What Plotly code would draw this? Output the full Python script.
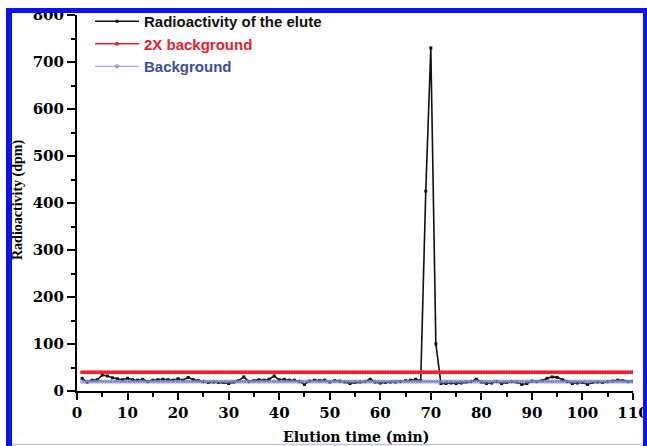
import plotly.graph_objects as go

# ---------------- data ----------------
elution_time = list(range(1, 111))
radioactivity = [
    27, 19, 23, 24, 34, 32, 28, 26, 24, 27,
    24, 23, 25, 20, 23, 24, 25, 24, 23, 26,
    23, 29, 24, 22, 20, 18, 19, 18, 18, 16,
    19, 22, 30, 20, 22, 24, 23, 25, 32, 24,
    25, 23, 23, 20, 14, 21, 23, 22, 23, 19,
    22, 21, 19, 16, 18, 19, 20, 25, 19, 17,
    18, 19, 19, 20, 22, 23, 25, 22, 425, 730,
    100, 16, 16, 17, 16, 17, 19, 20, 25, 19,
    16, 17, 20, 16, 18, 20, 19, 14, 16, 21,
    20, 22, 27, 30, 29, 24, 20, 16, 17, 18,
    14, 18, 19, 18, 20, 21, 23, 22, 20, 21,
]
bg_time = [1 + 0.5 * i for i in range(219)]
background_level = 20
two_x_background_level = 40
background = [background_level] * len(bg_time)
two_x_background = [two_x_background_level] * len(bg_time)

x_ticks = [0, 10, 20, 30, 40, 50, 60, 70, 80, 90, 100, 110]
y_ticks = [0, 100, 200, 300, 400, 500, 600, 700, 800]

# ---------------- layout geometry ----------------
W, H = 647, 446
L, R, T, B = 77, 633, 15, 391


def px(xp):
    return (xp - L) / (R - L)


def py(yp):
    return (B - yp) / (B - T)


serif = "DejaVu Serif"
sans = "Liberation Sans"

fig = go.Figure()
fig.add_trace(go.Scatter(
    x=elution_time, y=radioactivity, mode="lines+markers",
    name="<span style='color:#111111'>Radioactivity of the elute</span>",
    line=dict(color="#111111", width=1.6),
    marker=dict(symbol="square", size=3, color="#111111"),
))
fig.add_trace(go.Scatter(
    x=bg_time, y=two_x_background, mode="lines+markers",
    name="<span style='color:#e8202c'>2X background</span>",
    line=dict(color="#f02030", width=1.5),
    marker=dict(symbol="circle", size=4, color="#f02030"),
))
fig.add_trace(go.Scatter(
    x=bg_time, y=background, mode="lines+markers",
    name="<span style='color:#3d4ea0'>Background</span>",
    line=dict(color="#8890d8", width=1),
    marker=dict(symbol="circle-open", size=3, color="#7080cc", line=dict(width=1)),
))

axis_font = dict(family=serif, size=15, color="black", weight="bold")

fig.update_xaxes(
    range=[0, 110], tickvals=x_ticks, ticktext=[str(v) for v in x_ticks],
    showline=True, linecolor="black", linewidth=2,
    ticks="outside", ticklen=7, tickwidth=2, tickcolor="black",
    minor=dict(dtick=5, ticks="outside", ticklen=4, tickwidth=2, tickcolor="black"),
    showgrid=False, zeroline=False, tickfont=axis_font,
    automargin=False, ticklabeloverflow="allow",
)
fig.update_yaxes(
    range=[0, 800], tickvals=y_ticks, ticktext=[str(v) for v in y_ticks],
    showline=True, linecolor="black", linewidth=2,
    ticks="outside", ticklen=8, tickwidth=2, tickcolor="black",
    minor=dict(dtick=50, ticks="outside", ticklen=4, tickwidth=2, tickcolor="black"),
    showgrid=False, zeroline=False, tickfont=axis_font,
    automargin=False, ticklabeloverflow="allow",
)

blue = "#0a14f0"
shapes = [
    dict(type="rect", xref="paper", yref="paper", x0=px(6), x1=px(12), y0=py(450), y1=py(8),
         fillcolor=blue, line_width=0, layer="above"),
    dict(type="rect", xref="paper", yref="paper", x0=px(6), x1=px(650), y0=py(13), y1=py(8),
         fillcolor=blue, line_width=0, layer="above"),
    dict(type="rect", xref="paper", yref="paper", x0=px(643), x1=px(650), y0=py(450), y1=py(8),
         fillcolor=blue, line_width=0, layer="above"),
    dict(type="line", xref="paper", yref="paper", x0=px(12), x1=px(643), y0=py(444.5), y1=py(444.5),
         line=dict(color="#c4c4f2", width=1.5), layer="above"),
]

annotations = [
    dict(text="Elution time (min)", xref="paper", yref="paper", x=px(356), y=py(437),
         xanchor="center", yanchor="middle", showarrow=False,
         font=dict(family=serif, size=14, color="black", weight="bold")),
    dict(text="Radioactivity (dpm)", xref="paper", yref="paper", x=px(18), y=py(200),
         xanchor="center", yanchor="middle", showarrow=False, textangle=-90,
         font=dict(family="Liberation Serif", size=14, color="black", weight="bold")),
]

fig.update_layout(
    width=W, height=H,
    margin=dict(l=L, r=W - R, t=T, b=H - B, pad=0, autoexpand=False),
    paper_bgcolor="white", plot_bgcolor="white",
    shapes=shapes, annotations=annotations,
    showlegend=True,
    legend=dict(
        x=px(90), y=py(5), xanchor="left", yanchor="top",
        bgcolor="rgba(0,0,0,0)", borderwidth=0,
        font=dict(family=sans, size=15, color="black", weight="bold"),
        itemwidth=44, tracegroupgap=0,
    ),
)

fig.write_html(
    "out.html",
    config={"displayModeBar": False},
    post_script="document.body.style.margin='0';document.body.style.padding='0';",
)
